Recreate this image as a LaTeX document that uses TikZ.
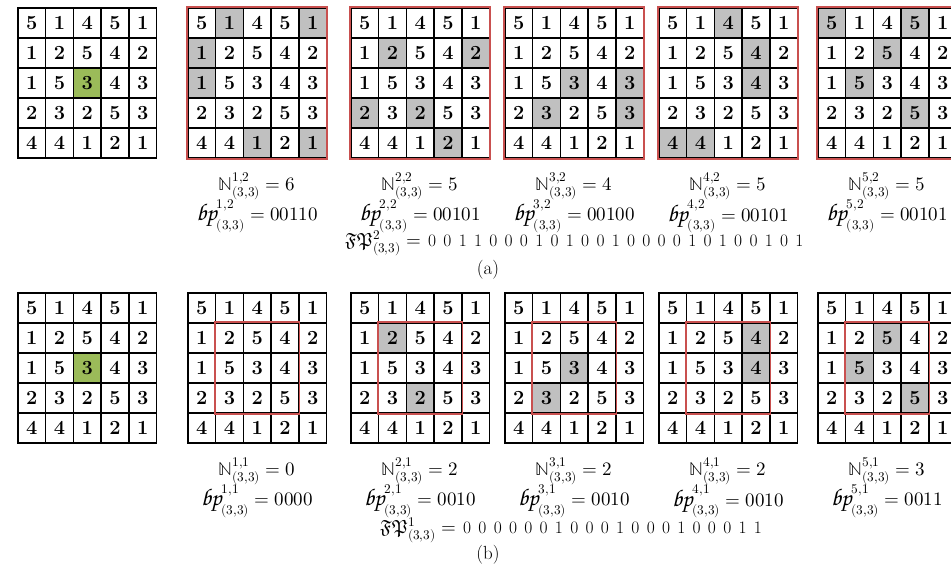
\documentclass[tikz,border=0pt]{standalone}
\usepackage{unicode-math}
\setmathfont{Latin Modern Math}
\newfontfamily\chorus{texgyrechorus-mediumitalic.otf}
\definecolor{cellgray}{HTML}{C0C0C0}
\definecolor{cellgreen}{HTML}{9BBB59}
\definecolor{boxred}{HTML}{C9504F}
\newcommand\pxgrid[5]{% #1 name, #2 x, #3 y, #4 highlighted r/c list, #5 fill colour
  \foreach \hr/\hc in {#4} {\fill[#5] (#2+\hc*27.7-27.7, #3+\hr*30-30) rectangle ++(27.7,30);}
  \foreach \rr/\rowlist in {1/{5,1,4,5,1},2/{1,2,5,4,2},3/{1,5,3,4,3},4/{2,3,2,5,3},5/{4,4,1,2,1}} {
    \foreach \v [count=\cc] in \rowlist {
      \node[cellbox] (#1-\rr-\cc) at (#2+\cc*27.7-13.85, #3+\rr*30-15) {\v};
    }
  }
}
\newcommand\bitc[1]{\makebox[15.3pt][l]{#1}}
\newcommand\bpsym{\mbox{\chorus\fontsize{24}{24}\selectfont bp}}
\begin{document}
\begin{tikzpicture}[x=1pt,y=-1pt,
  cellbox/.style={draw=black,line width=1.5pt,minimum width=27.7pt,minimum height=30pt,inner sep=0pt,font=\fontsize{20}{20}\selectfont\bfseries},
  redframe/.style={draw=boxred,line width=1.6pt},
  lbl/.style={font=\fontsize{19}{19}\selectfont,inner sep=0pt},
  bitline/.style={font=\fontsize{17.5}{17.5}\selectfont,inner sep=0pt,anchor=west}]
\useasboundingbox (0,0) rectangle (951,571);
\clip (0,0) rectangle (951,571);
% ---------- (a) ----------
\pxgrid{a0}{18}{8}{3/3}{cellgreen}
\pxgrid{a1}{188}{8}{1/2,1/5,2/1,3/1,5/3,5/5}{cellgray}
\pxgrid{a2}{351}{8}{2/2,2/5,4/1,4/3,5/4}{cellgray}
\pxgrid{a3}{505}{8}{3/3,3/5,4/2,4/5}{cellgray}
\pxgrid{a4}{659}{8}{1/3,2/4,3/4,5/1,5/2}{cellgray}
\pxgrid{a5}{818}{8}{1/1,1/4,2/3,3/2,4/4}{cellgray}
\foreach \g in {a1,a2,a3,a4,a5} {\draw[redframe] (\g-1-1.north west) rectangle (\g-5-5.south east);}
\node[lbl] (na1) at (257,186) {$\mathbb{N}^{1,2}_{(3,3)} = 6$};
\node[lbl] (na2) at (420,186) {$\mathbb{N}^{2,2}_{(3,3)} = 5$};
\node[lbl] (na3) at (574,186) {$\mathbb{N}^{3,2}_{(3,3)} = 4$};
\node[lbl] (na4) at (728,186) {$\mathbb{N}^{4,2}_{(3,3)} = 5$};
\node[lbl] (na5) at (887,186) {$\mathbb{N}^{5,2}_{(3,3)} = 5$};
\node[lbl] (ba1) at (257,216) {$\bpsym^{1,2}_{(3,3)} = 00110$};
\node[lbl] (ba2) at (420,216) {$\bpsym^{2,2}_{(3,3)} = 00101$};
\node[lbl] (ba3) at (574,216) {$\bpsym^{3,2}_{(3,3)} = 00100$};
\node[lbl] (ba4) at (728,216) {$\bpsym^{4,2}_{(3,3)} = 00101$};
\node[lbl] (ba5) at (887,216) {$\bpsym^{5,2}_{(3,3)} = 00101$};
\node[bitline] (fpa) at (345,243) {\makebox[83pt][l]{\fontsize{19}{19}\selectfont$\mathfrak{FP}^{2}_{(3,3)} =$}\bitc0\bitc0\bitc1\bitc1\bitc0\bitc0\bitc0\bitc1\bitc0\bitc1\bitc0\bitc0\bitc1\bitc0\bitc0\bitc0\bitc0\bitc1\bitc0\bitc1\bitc0\bitc0\bitc1\bitc0\bitc1};
\node[lbl] (capa) at (488,270) {(a)};
% ---------- (b) ----------
\pxgrid{b0}{18}{293}{3/3}{cellgreen}
\pxgrid{b1}{188}{293}{}{cellgray}
\pxgrid{b2}{351}{293}{2/2,4/3}{cellgray}
\pxgrid{b3}{505}{293}{3/3,4/2}{cellgray}
\pxgrid{b4}{659}{293}{2/4,3/4}{cellgray}
\pxgrid{b5}{818}{293}{2/3,3/2,4/4}{cellgray}
\foreach \g in {b1,b2,b3,b4,b5} {\draw[redframe] (\g-2-2.north west) rectangle (\g-4-4.south east);}
\node[lbl] (nb1) at (257,471) {$\mathbb{N}^{1,1}_{(3,3)} = 0$};
\node[lbl] (nb2) at (420,471) {$\mathbb{N}^{2,1}_{(3,3)} = 2$};
\node[lbl] (nb3) at (574,471) {$\mathbb{N}^{3,1}_{(3,3)} = 2$};
\node[lbl] (nb4) at (728,471) {$\mathbb{N}^{4,1}_{(3,3)} = 2$};
\node[lbl] (nb5) at (887,471) {$\mathbb{N}^{5,1}_{(3,3)} = 3$};
\node[lbl] (bb1) at (257,501) {$\bpsym^{1,1}_{(3,3)} = 0000$};
\node[lbl] (bb2) at (420,501) {$\bpsym^{2,1}_{(3,3)} = 0010$};
\node[lbl] (bb3) at (574,501) {$\bpsym^{3,1}_{(3,3)} = 0010$};
\node[lbl] (bb4) at (728,501) {$\bpsym^{4,1}_{(3,3)} = 0010$};
\node[lbl] (bb5) at (887,501) {$\bpsym^{5,1}_{(3,3)} = 0011$};
\node[bitline] (fpb) at (380,530) {\makebox[83pt][l]{\fontsize{19}{19}\selectfont$\mathfrak{FP}^{1}_{(3,3)} =$}\bitc0\bitc0\bitc0\bitc0\bitc0\bitc0\bitc1\bitc0\bitc0\bitc0\bitc1\bitc0\bitc0\bitc0\bitc1\bitc0\bitc0\bitc0\bitc1\bitc1};
\node[lbl] (capb) at (488,555) {(b)};
\end{tikzpicture}
\end{document}
